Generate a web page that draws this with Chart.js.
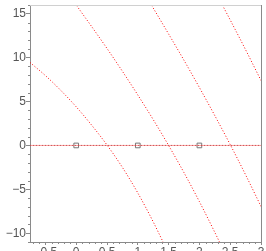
<!DOCTYPE html>
<html>
<head>
<meta charset="utf-8">
<script src="https://cdn.jsdelivr.net/npm/chart.js@4.4.1/dist/chart.umd.min.js"></script>
<style>
html,body{margin:0;padding:0;background:#fff;}
#wrap{width:266px;height:251px;}
canvas{display:block;}
</style>
</head>
<body>
<div id="wrap"><canvas id="c" width="266" height="251"></canvas></div>
<script>
// ---- data ----
const curve1X = [-0.75, -0.5, -0.25, 0, 0.25, 0.5, 0.75, 1.0, 1.25, 1.42];
const curve1Y = [9.45, 7.96, 6.27, 4.4, 2.32, 0.05, -2.5, -5.41, -8.7, -11.15];
const curve2X = [-0.05, 0, 0.25, 0.5, 0.75, 1.0, 1.25, 1.5, 1.75, 2.0, 2.25, 2.35];
const curve2Y = [16.5, 16.0, 13.55, 11.05, 8.45, 5.75, 2.95, 0.0, -3.1, -6.4, -9.9, -11.35];
const curve3X = [1.2, 1.5, 1.75, 2.0, 2.25, 2.5, 2.75, 3.0];
const curve3Y = [16.25, 12.7, 9.7, 6.6, 3.4, 0.1, -3.35, -6.95];
const curve4X = [2.35, 2.5, 2.75, 3.0];
const curve4Y = [16.3, 14.3, 10.9, 7.4];
const zeroLineX = [-0.75, 3.0];
const zeroLineY = [0, 0];
const pointsX = [0, 1, 2];
const pointsY = [0, 0, 0];
const xTickValues = [-0.5, 0, 0.5, 1, 1.5, 2, 2.5, 3];
const xTickLabels = ['\u22120.5', '0', '0.5', '1', '1.5', '2', '2.5', '3'];
const yTickValues = [-10, -5, 0, 5, 10, 15];
const yTickLabels = ['\u221210', '\u22125', '0', '5', '10', '15'];
const xRange = [-0.75, 3.0];
const yRange = [-11, 16];

const zip = (xs, ys) => xs.map((x, i) => ({x: x, y: ys[i]}));
const RED = 'rgb(255,0,0)';
const AXIS = '#8a8a8a';

function curve(xs, ys) {
  return {
    type: 'line', data: zip(xs, ys), borderColor: RED, borderWidth: 1,
    borderDash: [1, 2], pointRadius: 0, fill: false, cubicInterpolationMode: 'monotone'
  };
}

const minorTicks = {
  id: 'minorTicks',
  afterDraw(chart) {
    const ctx = chart.ctx, xs = chart.scales.x, ys = chart.scales.y, a = chart.chartArea;
    ctx.save();
    ctx.strokeStyle = AXIS; ctx.lineWidth = 1;
    ctx.beginPath();
    for (let k = Math.ceil(yRange[0]); k <= yRange[1]; k++) {
      if (k % 5 === 0) continue;
      const py = Math.round(ys.getPixelForValue(k)) + 0.5;
      ctx.moveTo(a.left - 2, py); ctx.lineTo(a.left, py);
    }
    for (let k = Math.ceil(xRange[0] * 10); k <= xRange[1] * 10; k++) {
      if (k % 5 === 0) continue;
      const px = Math.round(xs.getPixelForValue(k / 10)) + 0.5;
      ctx.moveTo(px, a.bottom); ctx.lineTo(px, a.bottom + 2);
    }
    ctx.stroke();
    ctx.strokeStyle = '#d0d0d0';
    ctx.beginPath(); ctx.moveTo(a.left, a.top + 0.5); ctx.lineTo(a.right, a.top + 0.5); ctx.stroke();
    ctx.strokeStyle = AXIS;
    ctx.beginPath(); ctx.moveTo(Math.round(a.right) + 0.5, a.top); ctx.lineTo(Math.round(a.right) + 0.5, a.bottom); ctx.stroke();
    ctx.restore();
  }
};

new Chart(document.getElementById('c'), {
  type: 'scatter',
  data: {
    datasets: [
      {type: 'line', data: zip(zeroLineX, zeroLineY), borderColor: 'rgba(255,70,70,0.55)', borderWidth: 1,
       pointRadius: 0, fill: false},
      {type: 'line', data: zip(zeroLineX, zeroLineY), borderColor: 'rgba(90,90,90,0.8)', borderWidth: 1,
       borderDash: [1, 2], pointRadius: 0, fill: false},
      curve(curve1X, curve1Y),
      curve(curve2X, curve2Y),
      curve(curve3X, curve3Y),
      curve(curve4X, curve4Y),
      {type: 'scatter', data: zip(pointsX, pointsY), pointStyle: 'rect', pointRadius: 3.3,
       borderColor: '#777', borderWidth: 1, backgroundColor: 'rgba(255,255,255,0)', clip: false}
    ]
  },
  options: {
    responsive: false, animation: false, devicePixelRatio: 1,
    layout: {padding: {left: 0, right: 3, top: 0, bottom: 0}},
    plugins: {legend: {display: false}, tooltip: {enabled: false}},
    scales: {
      x: {
        type: 'linear', min: xRange[0], max: xRange[1],
        afterBuildTicks: s => { s.ticks = xTickValues.map(v => ({value: v})); },
        afterFit: s => { s.height = 9; s.paddingLeft = 0; s.paddingRight = 0; },
        ticks: {
          autoSkip: false, maxRotation: 0, padding: 0, color: '#555',
          font: {family: 'Liberation Sans', size: 12},
          callback: (v) => { const i = xTickValues.indexOf(v); return i >= 0 ? xTickLabels[i] : ''; }
        },
        grid: {drawOnChartArea: false, drawTicks: true, tickLength: 3, color: AXIS},
        border: {display: true, color: AXIS}
      },
      y: {
        type: 'linear', min: yRange[0], max: yRange[1],
        afterBuildTicks: s => { s.ticks = yTickValues.map(v => ({value: v})); },
        afterFit: s => { s.width = 30; s.paddingTop = 0; s.paddingBottom = 0; },
        ticks: {
          autoSkip: false, padding: 0, color: '#555',
          font: {family: 'Liberation Sans', size: 12},
          callback: (v) => { const i = yTickValues.indexOf(v); return i >= 0 ? yTickLabels[i] : ''; }
        },
        grid: {drawOnChartArea: false, drawTicks: true, tickLength: 4, color: AXIS},
        border: {display: true, color: AXIS}
      }
    }
  },
  plugins: [minorTicks]
});
</script>
</body>
</html>
